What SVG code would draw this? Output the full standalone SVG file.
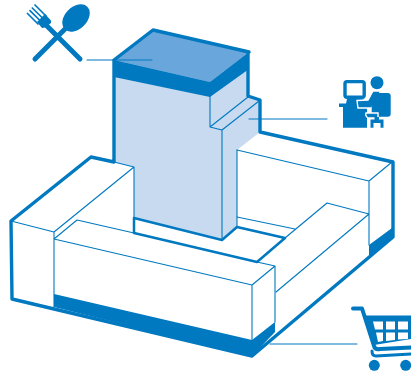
<svg xmlns="http://www.w3.org/2000/svg" width="411" height="373" viewBox="0 0 411 373">
<style>
.o{fill:none;stroke:#0079c1;stroke-linejoin:round;stroke-linecap:round}
.t{stroke-width:3.4}
.m{stroke-width:2.5}
.n{stroke-width:1.1}
.f{fill:#0079c1}
.w{fill:#fff}
</style>
<rect width="411" height="373" fill="#fff"/>
<g id="building">
<path class="w" d="M11 221L91 157L114 162L134 167V218L222 239L238 227V150L259 133L393 162L392 237L252 356L12 299Z"/>
<path fill="#c8daf0" d="M114 60L248 52V96L260 100V132L237 150V227L222 240L134 218V167L114 162Z"/>
<path fill="#69a6dc" d="M114 60L153 30L249 52L210 82Z"/>
<path class="f" d="M114 60L210 82L249 52V69L210 97L114 77Z"/>
<path class="f" d="M54 294L252 340L275 322V332L252 356L54 307Z"/>
<path class="f" d="M369 245L392 228V237L369 257Z"/>
<path class="o n" d="M210 82V127M210 127L248 97M210 127L222 130L259 101M222 130V240M237 150V227"/>
<path class="o n" d="M134 167V218M114 162L134 167M54 232L134 167M11 221L54 232M54 232V307M54 239L77 220L134 233M54 239L252 285L275 266L257 262M252 285V340M275 266V322"/>
<path class="o n" d="M237 150L369 181L392 162M369 181V245M237 217L295 229M285 238L327 203L369 214L276 292"/>
<path class="o m" d="M134 218V233L257 262L285 238L237 227M134 218L222 240L237 227"/>
<path class="o t" d="M114 60L153 30L249 52M248 52V96L260 100V132L393 162V237L252 356L12 299L11 221L91 157L114 162V60"/>
</g>
<g id="connectors">
<path class="o n" d="M87 60H152M249 119H327M270 344H357"/>
</g>
<g id="cutlery">
<path class="o" stroke-width="5" stroke-linecap="butt" d="M80 59L46 25M35 59L67 27"/>
<path class="f" d="M37 22L45 14L51 20.500V23L45 27.500L42 28Z"/>
<path class="o" stroke-width="1.700" d="M27.500 13.500L38 24M30 10.700L41 21.500M32.300 8L43 18.500M35 5L46 16"/>
<ellipse class="f" cx="76" cy="18" rx="16" ry="11" transform="rotate(-45 76 18)"/>
</g>
<g id="office">
<rect class="o" stroke-width="3.400" x="345" y="81.600" width="19.200" height="15.600" rx="2"/>
<path class="f" d="M339 103.500H346L347 99H362L367 101V127.700H343V107H339Z"/>
<circle class="f" cx="377" cy="82.700" r="6.500"/>
<path class="f" d="M357 100.500L368 100L373 91H381L379 94L373 104L372 108H358Z" stroke="#fff" stroke-width="1.400"/>
<rect class="f" x="371.700" y="93" width="19" height="23.700" rx="3"/>
<path class="f" stroke="#fff" stroke-width="1.400" d="M366 113H378V118H368Q365 116 366 113Z"/>
<path class="f" d="M374.500 117H379V119.500H383.500V127.700H380.500V123H373.500V127.700H370.500V119.500H374.500Z"/>
</g>
<g id="cart">
<path class="o" stroke-width="4" d="M353 308.500H362L374 346Q375 350 380 349L411 347.500"/>
<path class="f" d="M363 315.500H411V339L374 345Z"/>
<path class="w" d="M373 321.500H383V329.500H375ZM386 321.500H395V329.500H386ZM398 321.500H408V329.500H398ZM376 332.500H383V341L378 342ZM386 332.500H395V340L386 341ZM398 332.500H408V339L398 339.500Z"/>
<circle class="f" cx="374.300" cy="365.300" r="5.500"/>
<circle class="f" cx="405.700" cy="365.300" r="5.500"/>
<path class="o" stroke-width="3" d="M372 351Q372 356 376 356L411 354"/>
</g>
</svg>
